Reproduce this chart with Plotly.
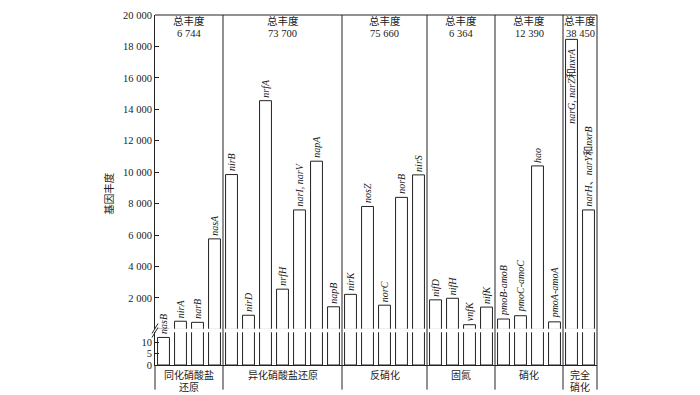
import re
import plotly.graph_objects as go

# ---------------- data ----------------
genes = ["nasB", "nirA", "narB", "nasA",
         "nirB", "nirD", "nrfA", "nrfH", "narI, narV", "napA", "napB",
         "nirK", "nosZ", "norC", "norB", "nirS",
         "nifD", "nifH", "vnfK", "nifK",
         "pmoB-amoB", "pmoC-amoC", "hao", "pmoA-amoA",
         "narG, narZ和nxrA", "narH、narY和nxrB"]
abundance = [12, 520, 450, 5760,
             9850, 900, 14550, 2560, 7600, 10700, 1440,
             2230, 7820, 1540, 8400, 9830,
             1880, 1980, 300, 1420,
             660, 870, 10400, 480,
             18450, 7600]
group_names = [["同化硝酸盐", "还原"], ["异化硝酸盐还原"], ["反硝化"], ["固氮"], ["硝化"], ["完全", "硝化"]]
group_sizes = [4, 7, 5, 4, 4, 2]
group_totals = [6744, 73700, 75660, 6364, 12390, 38450]
upper_ticks = [2000, 4000, 6000, 8000, 10000, 12000, 14000, 16000, 18000, 20000]
upper_ticktext = ["2 000", "4 000", "6 000", "8 000", "10 000", "12 000", "14 000", "16 000", "18 000", "20 000"]
lower_ticks = [0, 5, 10]
lower_ticktext = ["0", "5", "10"]

LOWER_MAX = 14.3
UPPER_MIN = 38
UPPER_MAX = 20000

SERIF = "Liberation Serif, Noto Sans CJK SC, serif"
BLACK = "#222222"

xpos = list(range(len(genes)))


def fmt_total(v):
    return f"{v:,}".replace(",", " ")


def italicize(s):
    return re.sub(r"([A-Za-z][A-Za-z0-9\-]*(?:, [A-Za-z][A-Za-z0-9\-]*)*)", r"<i>\1</i>", s)


fig = go.Figure()

bar_style = dict(marker=dict(color="white", line=dict(color=BLACK, width=1)),
                 width=0.7, showlegend=False, hoverinfo="skip")

# lower (0-14) segment
fig.add_trace(go.Bar(x=xpos, y=abundance, xaxis="x", yaxis="y", **bar_style))
# upper segment
fig.add_trace(go.Bar(x=xpos, y=abundance, xaxis="x2", yaxis="y2", **bar_style))

annotations = []
for i, (g, v) in enumerate(zip(genes, abundance)):
    yref = "y" if v <= LOWER_MAX else "y2"
    inside = v > 16000
    annotations.append(dict(
        x=i, y=v, xref="x", yref=yref,
        text=italicize(g), textangle=-90, showarrow=False,
        xanchor="center", yanchor="top" if inside else "bottom",
        yshift=-7 if inside else 1,
        font=dict(family=SERIF, size=10, color=BLACK)))

# group labels, totals, dividers
shapes = []
start = 0
paper_bottom = -0.0704
line_y = [-0.0296, -0.0634]
for names, size, tot in zip(group_names, group_sizes, group_totals):
    center = start + (size - 1) / 2
    annotations.append(dict(x=center, y=0.983, xref="x", yref="paper", text="总丰度",
                            showarrow=False, yanchor="middle",
                            font=dict(family=SERIF, size=10.5, color=BLACK)))
    annotations.append(dict(x=center, y=0.9465, xref="x", yref="paper", text=fmt_total(tot),
                            showarrow=False, yanchor="middle",
                            font=dict(family=SERIF, size=10.5, color=BLACK)))
    for k, nm in enumerate(names):
        annotations.append(dict(x=center, y=line_y[k], xref="x", yref="paper",
                                text=nm, showarrow=False, yanchor="middle", borderpad=0,
                                font=dict(family=SERIF, size=10, color=BLACK)))
    end = start + size
    if end < len(genes):
        shapes.append(dict(type="line", xref="x", yref="paper", x0=end - 0.5, x1=end - 0.5,
                           y0=paper_bottom, y1=1, line=dict(color=BLACK, width=1)))
    start = end

# frame lines
shapes.append(dict(type="line", xref="paper", yref="paper", x0=0, x1=1, y0=1, y1=1,
                   line=dict(color=BLACK, width=1)))
shapes.append(dict(type="line", xref="paper", yref="paper", x0=1, x1=1, y0=paper_bottom, y1=1,
                   line=dict(color=BLACK, width=1)))
shapes.append(dict(type="line", xref="paper", yref="paper", x0=0, x1=0, y0=paper_bottom, y1=0,
                   line=dict(color=BLACK, width=1)))
# axis break marks
for dy in (-2, 2):
    shapes.append(dict(type="line", xref="paper", yref="paper",
                       xsizemode="pixel", ysizemode="pixel", xanchor=0, yanchor=0.0986,
                       x0=-3, x1=3, y0=-5 + dy, y1=5 + dy,
                       line=dict(color=BLACK, width=1)))

# y-axis title
annotations.append(dict(x=-0.106, y=0.49, xref="paper", yref="paper", text="基因丰度",
                        textangle=-90, showarrow=False, xanchor="center", yanchor="middle",
                        font=dict(family=SERIF, size=10.5, color=BLACK)))

axis_common = dict(showline=True, linecolor=BLACK, linewidth=1, showgrid=False, zeroline=False,
                   ticks="inside", ticklen=4, tickcolor=BLACK,
                   tickfont=dict(family=SERIF, size=10.5, color=BLACK))

fig.update_layout(
    width=700, height=395,
    margin=dict(l=155, r=103, t=10, b=30),
    paper_bgcolor="white", plot_bgcolor="white",
    bargap=0.3,
    xaxis=dict(domain=[0, 1], anchor="y", range=[-0.5, 25.5], showline=True, linecolor=BLACK,
               linewidth=1, showticklabels=False, ticks="", showgrid=False, zeroline=False),
    xaxis2=dict(domain=[0, 1], anchor="y2", matches="x", visible=False, range=[-0.5, 25.5]),
    yaxis=dict(domain=[0, 0.0938], range=[0, LOWER_MAX], tickvals=lower_ticks,
               ticktext=lower_ticktext, **axis_common),
    yaxis2=dict(domain=[0.1034, 1], range=[UPPER_MIN, UPPER_MAX], tickvals=upper_ticks,
                ticktext=upper_ticktext, **axis_common),
    annotations=annotations,
    shapes=shapes,
)

fig.write_html("out.html", config={"displayModeBar": False},
               post_script="document.body.style.margin='0';document.body.style.overflow='hidden';")
